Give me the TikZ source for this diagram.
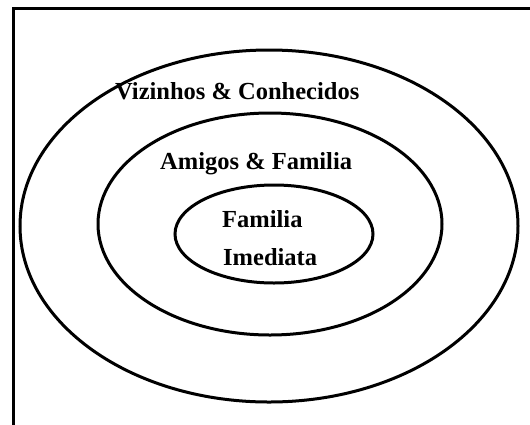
\documentclass[tikz,border=0pt]{standalone}
\usepackage{fontspec}
\setmainfont{Liberation Serif}
\begin{document}
\begin{tikzpicture}[x=1pt,y=-1pt,
  ring/.style={line width=3pt},
  frameline/.style={line width=3pt},
  label/.style={anchor=base west,inner sep=0pt,font=\fontsize{24.5}{29}\selectfont\bfseries}]
\useasboundingbox (0,0) rectangle (530,424);
% open frame: left and top edges
\draw[frameline] (13,430) -- (13,8) -- (540,8);
% concentric circles of relationships
\draw[ring] (269,226) ellipse [x radius=249, y radius=176];
\draw[ring] (270,224) ellipse [x radius=172, y radius=111];
\draw[ring] (274,234) ellipse [x radius=99, y radius=49];
% labels
\node[label] (outer) at (115,99) {Vizinhos \& Conhecidos};
\node[label] (middle) at (160,169) {Amigos \& Familia};
\node[label] (inner1) at (222,227) {Familia};
\node[label] (inner2) at (223,265) {Imediata};
\end{tikzpicture}
\end{document}
